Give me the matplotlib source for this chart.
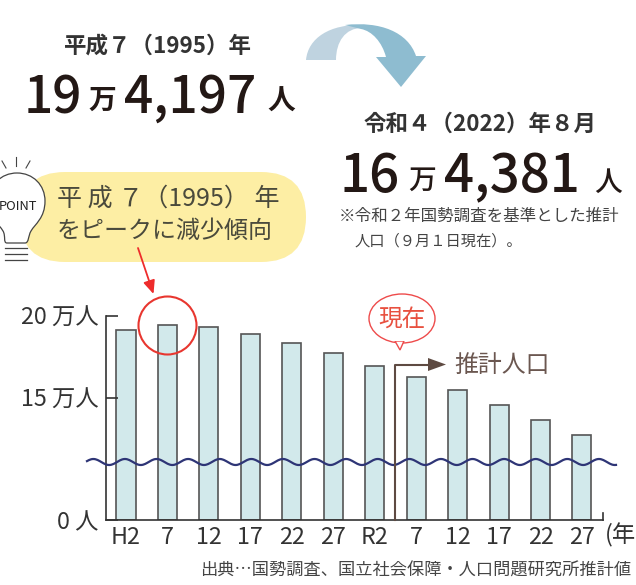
import matplotlib
matplotlib.use("Agg")
import matplotlib.pyplot as plt
import numpy as np
from matplotlib.patches import Circle, Ellipse, FancyBboxPatch, PathPatch, Polygon
from matplotlib.path import Path

plt.rcParams['font.family'] = ['Noto Sans CJK JP', 'DejaVu Sans']

# population in units of 10,000 people
years = ['H2', '7', '12', '17', '22', '27', 'R2', '7', '12', '17', '22', '27']
population = [19.11, 19.42, 19.31, 18.90, 18.33, 17.72, 16.95, 16.25, 15.50, 14.60, 13.67, 12.73]
y_ticks = [7.59, 15, 20]
y_labels = ['0 人', '15 万人', '20 万人']

W, H = 636, 585
DARK = '#333333'
fig = plt.figure(figsize=(W / 100, H / 100), dpi=100)

# chart axes, the y axis is broken so the floor value is labelled 0
left, right, top, bottom = 105.5, 603, 315.7, 520
ax = fig.add_axes([left / W, 1 - bottom / H, (right - left) / W, (bottom - top) / H])
x = np.arange(len(years))
ax.bar(x, np.array(population) - y_ticks[0], bottom=y_ticks[0], width=0.46,
       color='#D2E9EB', edgecolor='#555555', linewidth=1.2)
ax.set_xlim((left - 126) / 41.45, (right - 126) / 41.45)
ax.set_ylim(y_ticks[0], 20)
ax.set_yticks(y_ticks, y_labels, fontsize=16.8, color=DARK)
ax.set_xticks(x, years, fontsize=16.8, color=DARK)
ax.tick_params(axis='y', direction='in', length=8.5, width=1.2, pad=5, color='#333333')
ax.tick_params(axis='x', length=0, pad=4)
for s in ['top', 'right']:
    ax.spines[s].set_visible(False)
for s in ['left', 'bottom']:
    ax.spines[s].set_linewidth(1.2)
    ax.spines[s].set_color('#333333')
ax.patch.set_alpha(0)

# pixel overlay for the annotations
ov = fig.add_axes([0, 0, 1, 1], zorder=5)
ov.set_xlim(0, W)
ov.set_ylim(H, 0)
ov.axis('off')


def txt(px, py, s, size, ha='center', color=DARK, weight='normal', **kw):
    return ov.text(px, py, s, fontsize=size, ha=ha, va='center', color=color, weight=weight, **kw)


# right end tick of the x axis
ov.plot([603, 603], [513, 520], color='#333333', lw=1.2)
txt(636, 535, '(年', 16.8, ha='right')

# wave across the bars (axis break mark)
wx = np.linspace(87, 616, 500)
ov.plot(wx, 462 - 3 * np.sin((wx - 91.5) / 31.6 * 2 * np.pi + 1.2), color='#2E3576', lw=1.6)

# headline numbers
txt(158, 46, '平成７（1995）年', 16.2, weight='bold')
txt(24, 98, '19', 37, ha='left', color='#231815', weight='medium')
txt(102, 101, '万', 20, color='#231815', weight='bold')
txt(124, 98, '4,197', 37, ha='left', color='#231815', weight='medium')
txt(281, 102, '人', 20, color='#231815', weight='bold')

txt(480, 124, '令和４（2022）年８月', 16.2, weight='bold')
txt(339, 177, '16', 38, ha='left', color='#231815', weight='medium')
txt(422, 180, '万', 20, color='#231815', weight='medium')
txt(444, 177, '4,381', 38, ha='left', color='#231815', weight='medium')
txt(608, 182, '人', 20, color='#231815', weight='medium')
txt(339, 216, '※令和２年国勢調査を基準とした推計', 11.9, ha='left', color='#444444')
txt(355, 241, '人口（９月１日現在）。', 11, ha='left', color='#444444')

# curved arrow
light = Path([(306, 60), (308, 38), (330, 24), (362, 25), (362, 28), (345, 28), (336, 42), (336, 60), (306, 60)],
             [Path.MOVETO, Path.CURVE4, Path.CURVE4, Path.CURVE4, Path.LINETO, Path.CURVE4, Path.CURVE4, Path.CURVE4, Path.CLOSEPOLY])
ov.add_patch(PathPatch(light, fc='#BFD3E0', ec='none'))
dark = Path([(345, 25), (380, 21), (408, 32), (416, 56), (426, 56), (401, 87), (376, 57), (386, 57),
             (382, 42), (372, 31), (361, 29), (345, 25)],
            [Path.MOVETO, Path.CURVE4, Path.CURVE4, Path.CURVE4, Path.LINETO, Path.LINETO, Path.LINETO, Path.LINETO,
             Path.CURVE4, Path.CURVE4, Path.CURVE4, Path.CLOSEPOLY])
ov.add_patch(PathPatch(dark, fc='#8EBCD0', ec='none'))

# yellow callout and light bulb
ov.add_patch(FancyBboxPatch((20, 172), 286, 90, boxstyle='round,pad=0,rounding_size=45', fc='#FDEEA4', ec='none'))
txt(168, 199, '平 成 ７（1995） 年', 18, color='#4A4A3C')
txt(165, 231, 'をピークに減少傾向', 17.3, color='#4A4A3C')

C = Path.CURVE4
bulb = Path([(7, 243), (25, 243),
             (29, 243), (28, 236), (31, 231),
             (35, 224), (45, 218), (45, 201),
             (45, 185), (33, 173), (17, 173),
             (1, 173), (-11, 185), (-11, 201),
             (-11, 218), (-1, 224), (3, 231),
             (6, 236), (3, 243), (7, 243)],
            [Path.MOVETO, Path.LINETO] + [C] * 18)
ov.add_patch(PathPatch(bulb, fc='white', ec='#444444', lw=0.9))
for ly in [248, 254, 259.5]:
    ov.plot([5, 27], [ly, ly], color='#444444', lw=0.9)
ov.plot([15.5, 15.5], [157, 166], color='#444444', lw=0.8)
ov.plot([2, 6], [161, 168], color='#444444', lw=0.8)
ov.plot([30, 26], [161, 168], color='#444444', lw=0.8)
txt(18, 206, 'POINT', 9.3, color='#222222')

# red arrow and circle on the peak
ov.annotate('', xy=(153.5, 294), xytext=(138, 248),
            arrowprops=dict(arrowstyle='-|>,head_width=0.35,head_length=0.8', color='#EE2C2C', lw=1.3,
                            shrinkA=0, shrinkB=0))
ov.add_patch(Circle((167.5, 325.5), 29, fc='none', ec='#E8362F', lw=1.5))

# speech bubble for the current point
ov.add_patch(Ellipse((402, 318.5), 66, 49, fc='white', ec='#EE4B4B', lw=1))
ov.add_patch(Polygon([(395, 341), (400, 350), (404, 341)], fc='white', ec='#EE4B4B', lw=1))
ov.add_patch(Polygon([(394, 341), (405, 341), (405, 337), (394, 337)], fc='white', ec='none'))
txt(402, 319, '現在', 17, color='#E8503F')

# estimated population marker
BROWN = '#5E4A42'
ov.plot([395, 395, 430], [520, 364.5, 364.5], color=BROWN, lw=1.5)
ov.add_patch(Polygon([(428, 358), (446, 364.5), (428, 371)], fc=BROWN, ec='none'))
txt(454, 365, '推計人口', 17.2, ha='left', color='#6B5750')

txt(631, 571, '出典…国勢調査、国立社会保障・人口問題研究所推計値', 12.4, ha='right', color='#444444')

fig.savefig('out.png', dpi=100)
